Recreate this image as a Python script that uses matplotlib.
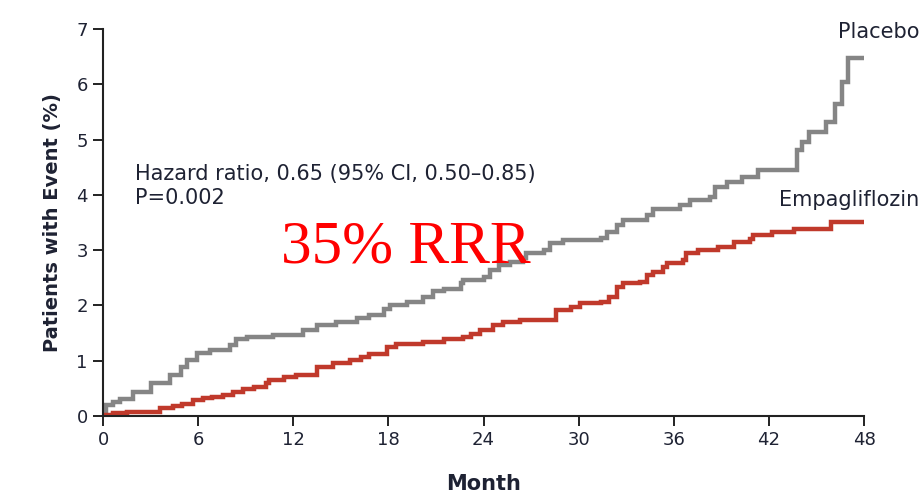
import matplotlib
matplotlib.use("Agg")
import matplotlib.pyplot as plt

# Kaplan-Meier style cumulative incidence (%)
placebo_month = [0, 0.2, 0.6, 1.1, 1.9, 3.0, 4.2, 4.9, 5.3, 5.9, 6.75, 8.0, 8.4, 9.1, 10.7,
                 12.6, 13.5, 14.7, 16.0, 16.8, 17.7, 18.1, 19.2, 20.2, 20.8, 21.5, 22.6, 22.7,
                 24.0, 24.4, 25.0, 25.7, 26.5, 26.7, 27.8, 28.2, 29.0, 31.4, 31.8, 32.4, 32.8,
                 34.3, 34.7, 36.4, 37.0, 38.3, 38.6, 39.35, 40.3, 41.3, 43.8, 44.1, 44.5,
                 45.6, 46.2, 46.6, 47.0, 48.0]
placebo_pct = [0, 0.2, 0.26, 0.31, 0.44, 0.6, 0.74, 0.89, 1.01, 1.14, 1.19, 1.28, 1.39, 1.42, 1.46,
               1.55, 1.65, 1.7, 1.77, 1.83, 1.93, 2.0, 2.07, 2.15, 2.27, 2.3, 2.4, 2.46,
               2.52, 2.64, 2.73, 2.79, 2.85, 2.94, 3.0, 3.13, 3.18, 3.22, 3.33, 3.45, 3.54,
               3.63, 3.74, 3.82, 3.9, 3.97, 4.15, 4.24, 4.33, 4.45, 4.81, 4.96, 5.14,
               5.32, 5.65, 6.05, 6.47, 6.47]

empa_month = [0, 0.2, 0.65, 1.5, 3.6, 4.4, 5.0, 5.7, 6.3, 6.9, 7.6, 8.2, 8.8, 9.5, 10.3, 10.5,
              11.4, 12.2, 13.5, 14.5, 15.6, 16.3, 16.8, 17.9, 18.5, 20.2, 21.5, 22.7, 23.2,
              23.8, 24.6, 25.2, 26.3, 28.6, 29.5, 30.1, 31.4, 31.9, 32.4, 32.8, 33.9, 34.3,
              34.7, 35.3, 35.6, 36.6, 36.8, 37.5, 38.8, 39.8, 40.8, 41.0, 42.2, 43.6, 45.9, 48.0]
empa_pct = [0, 0.02, 0.05, 0.08, 0.14, 0.18, 0.22, 0.29, 0.32, 0.35, 0.38, 0.44, 0.48, 0.52, 0.6, 0.66,
            0.7, 0.74, 0.89, 0.95, 1.01, 1.07, 1.13, 1.25, 1.31, 1.34, 1.39, 1.43, 1.49,
            1.55, 1.65, 1.7, 1.74, 1.92, 1.98, 2.04, 2.07, 2.16, 2.34, 2.4, 2.43, 2.55,
            2.61, 2.7, 2.76, 2.82, 2.94, 3.01, 3.06, 3.15, 3.21, 3.27, 3.33, 3.39, 3.51, 3.51]

x_ticks = [0, 6, 12, 18, 24, 30, 36, 42, 48]
y_ticks = [0, 1, 2, 3, 4, 5, 6, 7]

text_col = "#1e2233"
gray = "#858585"
red = "#c0392b"

fig = plt.figure(figsize=(9.22, 5.0), dpi=100)
ax = fig.add_axes([103/922, 1-416/500, (864-103)/922, (416-29)/500])

ax.step(placebo_month, placebo_pct, where="post", color=gray, lw=3.2, solid_joinstyle="miter")
ax.step(empa_month, empa_pct, where="post", color=red, lw=3.2, solid_joinstyle="miter")

ax.set_xlim(0, 48)
ax.set_ylim(0, 7)
ax.set_xticks(x_ticks)
ax.set_yticks(y_ticks)
ax.tick_params(axis="both", direction="out", length=7, width=1.4, colors="#222222",
               labelsize=13, labelcolor=text_col, pad=4)
for s in ["top", "right"]:
    ax.spines[s].set_visible(False)
for s in ["left", "bottom"]:
    ax.spines[s].set_linewidth(1.5)
    ax.spines[s].set_color("#222222")

ax.set_xlabel("Month", fontsize=15, fontweight="bold", color=text_col, labelpad=18)
ax.set_ylabel("Patients with Event (%)", fontsize=14, fontweight="bold", color=text_col, labelpad=10)

ax.text(2.0, 4.16, "Hazard ratio, 0.65 (95% CI, 0.50\u20130.85)\nP=0.002", fontsize=15,
        color=text_col, va="center", ha="left", linespacing=1.25)
ax.text(11.2, 3.05, "35% RRR", fontsize=44, color="#ff0000", family="Liberation Serif",
        va="center", ha="left")

fig.text(919/922, 1-32/500, "Placebo", fontsize=15, color=text_col, ha="right", va="center")
fig.text(919/922, 1-200/500, "Empagliflozin", fontsize=15, color=text_col, ha="right", va="center")

fig.savefig("out.png", dpi=100)
